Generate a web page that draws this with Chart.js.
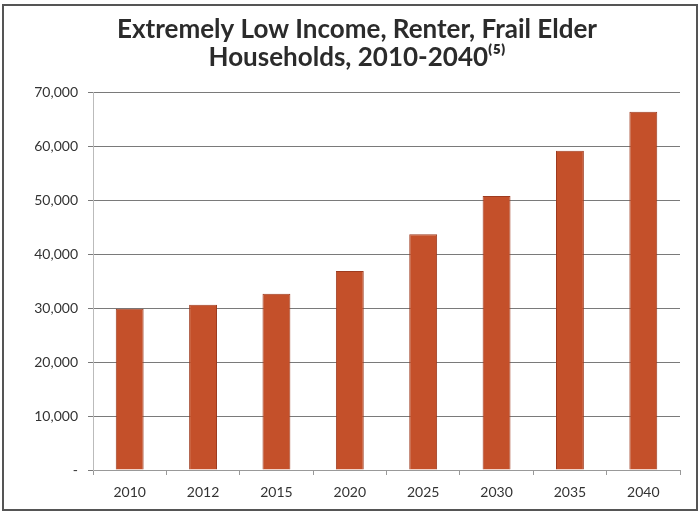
<!DOCTYPE html>
<html>
<head>
<meta charset="utf-8">
<script src="https://cdn.jsdelivr.net/npm/chart.js@4/dist/chart.umd.min.js"></script>
<style>
  html, body { margin: 0; padding: 0; background: #ffffff; }
  #wrap { width: 700px; height: 514px; position: relative; }
</style>
</head>
<body>
<div id="wrap"><canvas id="c" width="700" height="514"></canvas></div>
<script>
const categories = ['2010', '2012', '2015', '2020', '2025', '2030', '2035', '2040'];
const households = [29900, 30600, 32650, 36850, 43700, 50750, 59150, 66400];
const titleLines = ['Extremely Low Income, Renter, Frail Elder', 'Households, 2010-2040\u207D\u2075\u207E'];
const yMax = 70000;
const yStep = 10000;

const framePlugin = {
  id: 'frame',
  beforeDraw(chart) {
    const ctx = chart.ctx;
    ctx.save();
    ctx.fillStyle = '#ffffff';
    ctx.fillRect(0, 0, chart.width, chart.height);
    ctx.strokeStyle = '#555555';
    ctx.lineWidth = 2;
    ctx.strokeRect(3, 5, 694, 505);
    ctx.restore();
  }
};

new Chart(document.getElementById('c'), {
  type: 'bar',
  data: {
    labels: categories,
    datasets: [{
      data: households,
      backgroundColor: '#C4502A',
      borderColor: '#9E3B1F',
      borderWidth: 1,
      categoryPercentage: 1,
      barPercentage: 0.38
    }]
  },
  options: {
    responsive: false,
    animation: false,
    devicePixelRatio: 1,
    layout: { padding: { left: 34, right: 20, top: 8, bottom: 0 } },
    plugins: {
      legend: { display: false },
      tooltip: { enabled: false },
      title: {
        display: true,
        text: titleLines,
        color: '#2b2b2b',
        font: { family: 'Lato', size: 26, weight: 'bold', lineHeight: 1.1 },
        padding: { top: 7, bottom: 20 }
      }
    },
    scales: {
      x: {
        offset: true,
        grid: { display: true, drawOnChartArea: false, drawTicks: true, tickLength: 5, color: '#999999', offset: true },
        border: { display: true, color: '#999999', width: 1 },
        ticks: { color: '#333333', font: { family: 'Lato', size: 14 }, padding: 9 },
        afterFit(scale) { scale.height = 44; }
      },
      y: {
        min: 0,
        max: yMax,
        grid: { color: '#7a7a7a', lineWidth: 1, tickLength: 5, drawTicks: true },
        border: { display: true, color: '#bbbbbb', width: 1 },
        ticks: {
          stepSize: yStep,
          color: '#333333',
          font: { family: 'Lato', size: 14 },
          padding: 10,
          callback(v) { return v === 0 ? '-' : v.toLocaleString('en-US'); }
        },
        afterFit(scale) { scale.width = 59; }
      }
    }
  },
  plugins: [framePlugin]
});
</script>
</body>
</html>
